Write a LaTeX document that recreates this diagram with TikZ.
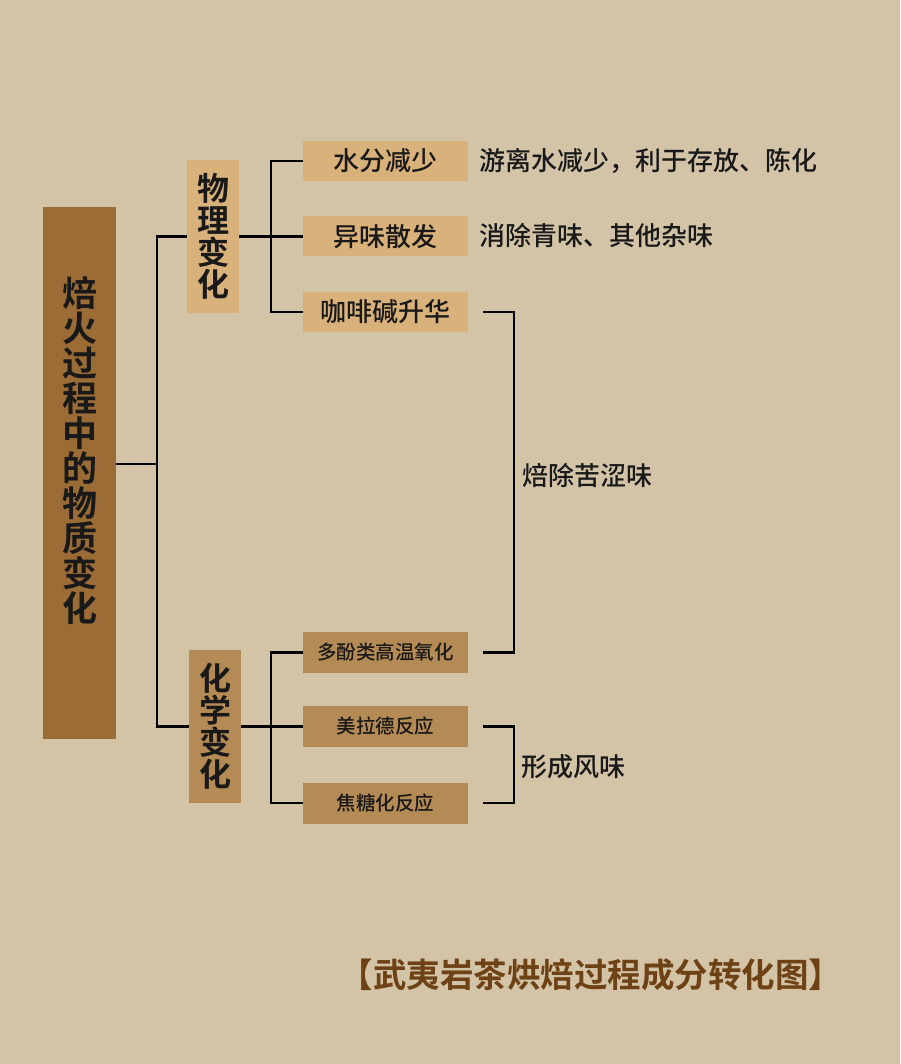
\documentclass[tikz,border=0pt]{standalone}
\usepackage{fontspec}
\setmainfont{Noto Sans CJK SC}[BoldFont={Noto Sans CJK SC Medium}]
\newfontfamily\heavy{Noto Sans CJK SC Bold}
\definecolor{bg}{HTML}{D3C4A8}
\definecolor{mainbox}{HTML}{9B6C36}
\definecolor{lightbox}{HTML}{D9B17A}
\definecolor{midbox}{HTML}{B48A55}
\definecolor{titlec}{HTML}{6E4214}
\tikzset{
  conn/.style={draw=black, line width=2.2pt},
  vbox/.style={inner sep=0pt, align=center, font=\heavy\fontsize{32}{32}\selectfont, text=black!90},
  topbox/.style={fill=lightbox, minimum width=165pt, minimum height=40pt, inner sep=0pt, font=\bfseries\fontsize{26}{28}\selectfont, text=black!90},
  lowbox/.style={fill=midbox, minimum width=165pt, minimum height=41pt, inner sep=0pt, font=\bfseries\fontsize{19.5}{21}\selectfont, text=black!90},
  side/.style={anchor=west, inner sep=0pt, font=\bfseries\fontsize{26}{28}\selectfont, text=black!90}
}
\begin{document}
\begin{tikzpicture}[x=1pt,y=-1pt]
\fill[bg] (0,0) rectangle (900,1064);
\useasboundingbox (0,0) rectangle (900,1064);

% main box
\node[fill=mainbox, minimum width=73pt, minimum height=532pt, inner sep=0pt] (main) at (79.5,473) {};
\node[inner sep=0pt, align=center, font=\heavy\fontsize{35}{35}\selectfont, text=black!90] (mainlabel) at (79.5,451)
      {焙\\火\\过\\程\\中\\的\\物\\质\\变\\化};

\node[fill=lightbox, minimum width=52pt, minimum height=153pt, vbox] (phys) at (213,236.5) {物\\理\\变\\化};
\node[fill=midbox, minimum width=52pt, minimum height=153pt, vbox] (chem) at (215,726.5) {化\\学\\变\\化};

\node[topbox] (a1) at (385.5,161) {水分减少};
\node[topbox] (a2) at (385.5,236.5) {异味散发};
\node[topbox] (a3) at (385.5,312) {咖啡碱升华};

\node[lowbox] (b1) at (385.5,652.5) {多酚类高温氧化};
\node[lowbox] (b2) at (385.5,726.5) {美拉德反应};
\node[lowbox] (b3) at (385.5,803) {焦糖化反应};

\node[side] (t1) at (479,161) {游离水减少，利于存放、陈化};
\node[side] (t2) at (479,236) {消除青味、其他杂味};
\node[side] (t3) at (522,475) {焙除苦涩味};
\node[side] (t4) at (521,767) {形成风味};

\node[inner sep=0pt, font=\heavy\fontsize{33.5}{35}\selectfont, text=titlec] (title) at (591,975) {【武夷岩茶烘焙过程成分转化图】};

% connectors
\coordinate (j1) at (157,464);
\draw[conn] (main.east |- j1) -- (j1);
\draw[conn] (phys.west) -- (phys.west -| j1) -- (chem.west -| j1) -- (chem.west);

\coordinate (j2) at (271,236.5);
\draw[conn] (phys.east) -- (a2.west);
\draw[conn] (a1.west) -| (j2) |- (a3.west);
\draw[conn] (chem.east) -- (b2.west);
\draw[conn] (b1.west) -| (j2 |- b2.west) |- (b3.west);

\draw[conn] ([xshift=15pt]a3.east) -- ++(31,0) |- ([xshift=15pt]b1.east);
\draw[conn] ([xshift=15pt]b2.east) -- ++(31,0) |- ([xshift=15pt]b3.east);
\end{tikzpicture}
\end{document}
